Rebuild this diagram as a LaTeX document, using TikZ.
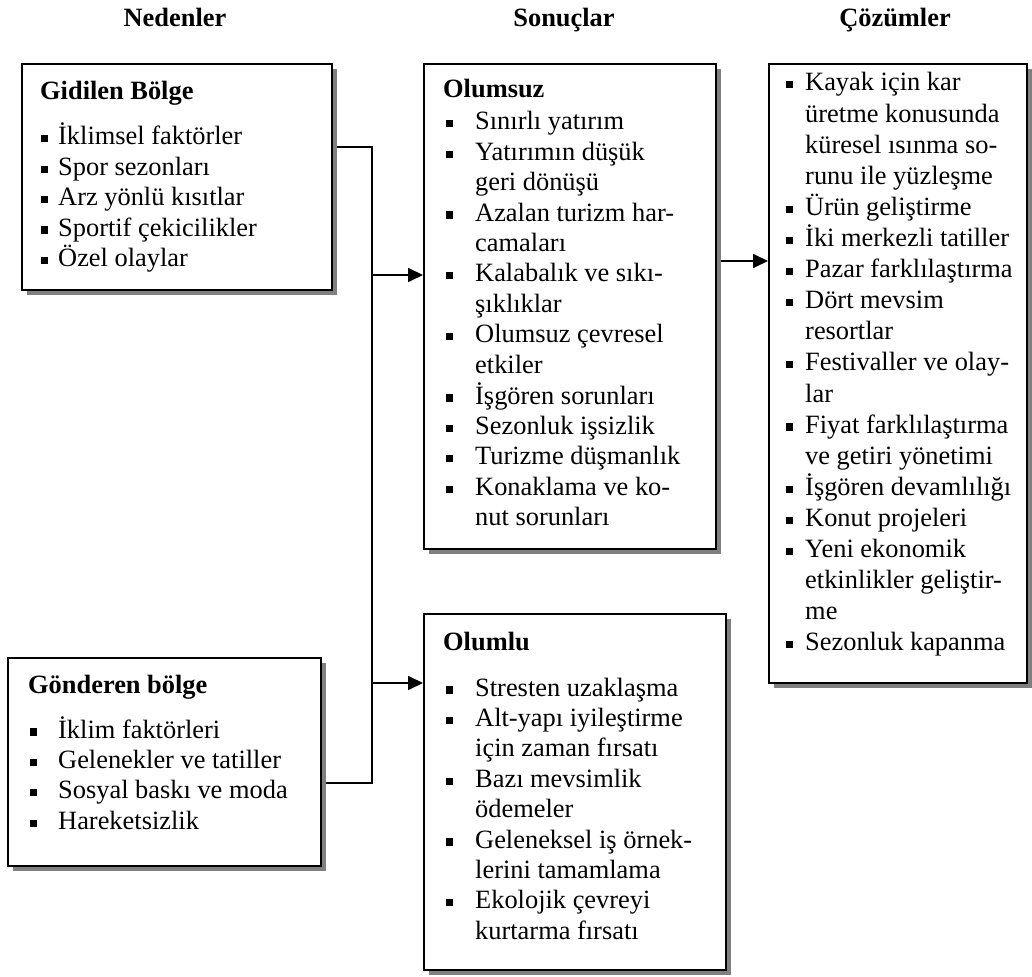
\documentclass[tikz,border=0pt]{standalone}
\usepackage{fontspec}
\setmainfont{Liberation Serif}
\usetikzlibrary{arrows.meta,shadows}
\pgfdeclarelayer{bg}
\pgfsetlayers{bg,main}
\definecolor{shadowgray}{RGB}{128,128,128}
% square bullet hung to the left of an item line
\newcommand{\sqb}[1]{\llap{\rule[2.5pt]{7.2pt}{7.2pt}\hspace{#1}}}
\newcommand{\blist}[1]{\begin{tabular}[t]{@{}l@{}}#1\end{tabular}}
\tikzset{
  panel/.style={rectangle, draw=black, line width=1.8pt, fill=white, inner sep=0pt,
    anchor=north west,
    drop shadow={shadow xshift=5pt, shadow yshift=-5pt, fill=shadowgray, opacity=1}},
  txt/.style={inner sep=0pt, anchor=base west, align=left,
    font=\fontsize{26.4}{30.4}\selectfont},
  wide/.style={txt, font=\fontsize{26.4}{31.1}\selectfont},
  title/.style={inner sep=0pt, anchor=base west, font=\fontsize{26.4}{30.4}\selectfont\bfseries},
  head/.style={inner sep=0pt, anchor=base, font=\fontsize{26.4}{30.4}\selectfont\bfseries},
  link/.style={line width=1.8pt},
  arr/.style={link, -{Triangle[length=15pt,width=14pt]}}
}
\begin{document}
\begin{tikzpicture}[x=1pt, y=-1pt]
\useasboundingbox (0,0) rectangle (1032,976);

% column headings
\node[head] (h1) at (175,27) {Nedenler};
\node[head] (h2) at (564,27) {Sonuçlar};
\node[head] (h3) at (895,27) {Çözümler};

% boxes
\node[panel, minimum width=310pt, minimum height=226pt] (gid) at (21,63) {};
\node[panel, minimum width=292pt, minimum height=485pt] (neg) at (423,63) {};
\node[panel, minimum width=258pt, minimum height=619pt] (coz) at (768,63) {};
\node[panel, minimum width=313pt, minimum height=208pt] (gon) at (7,657) {};
\node[panel, minimum width=302pt, minimum height=356pt] (pos) at (423,613) {};

% Gidilen Bölge
\node[title] (gidt) at (40,100) {Gidilen Bölge};
\node[txt] (gidl) at (58,145) {\blist{%
\sqb{10pt}İklimsel faktörler\\
\sqb{10pt}Spor sezonları\\
\sqb{10pt}Arz yönlü kısıtlar\\
\sqb{10pt}Sportif çekicilikler\\
\sqb{10pt}Özel olaylar}};

% Olumsuz
\node[title] (negt) at (443,98) {Olumsuz};
\node[txt] (negl) at (475,130) {\blist{%
\sqb{22pt}Sınırlı yatırım\\
\sqb{22pt}Yatırımın düşük\\
geri dönüşü\\
\sqb{22pt}Azalan turizm har-\\
camaları\\
\sqb{22pt}Kalabalık ve sıkı-\\
şıklıklar\\
\sqb{22pt}Olumsuz çevresel\\
etkiler\\
\sqb{22pt}İşgören sorunları\\
\sqb{22pt}Sezonluk işsizlik\\
\sqb{22pt}Turizme düşmanlık\\
\sqb{22pt}Konaklama ve ko-\\
nut sorunları}};

% Çözümler
\node[wide] (cozl) at (805,91) {\blist{%
\sqb{12pt}Kayak için kar\\
üretme konusunda\\
küresel ısınma so-\\
runu ile yüzleşme\\
\sqb{12pt}Ürün geliştirme\\
\sqb{12pt}İki merkezli tatiller\\
\sqb{12pt}Pazar farklılaştırma\\
\sqb{12pt}Dört mevsim\\
resortlar\\
\sqb{12pt}Festivaller ve olay-\\
lar\\
\sqb{12pt}Fiyat farklılaştırma\\
ve getiri yönetimi\\
\sqb{12pt}İşgören devamlılığı\\
\sqb{12pt}Konut projeleri\\
\sqb{12pt}Yeni ekonomik\\
etkinlikler geliştir-\\
me\\
\sqb{12pt}Sezonluk kapanma}};

% Gönderen bölge
\node[title] (gont) at (28,693) {Gönderen bölge};
\node[txt] (gonl) at (58,738) {\blist{%
\sqb{21pt}İklim faktörleri\\
\sqb{21pt}Gelenekler ve tatiller\\
\sqb{21pt}Sosyal baskı ve moda\\
\sqb{21pt}Hareketsizlik}};

% Olumlu
\node[title] (post) at (443,650) {Olumlu};
\node[txt] (posl) at (475,696) {\blist{%
\sqb{22pt}Stresten uzaklaşma\\
\sqb{22pt}Alt-yapı iyileştirme\\
için zaman fırsatı\\
\sqb{22pt}Bazı mevsimlik\\
ödemeler\\
\sqb{22pt}Geleneksel iş örnek-\\
lerini tamamlama\\
\sqb{22pt}Ekolojik çevreyi\\
kurtarma fırsatı}};

% connector junctions
\coordinate (jtop) at (372,147);
\coordinate (jbot) at (372,783);
\coordinate (jneg) at (372,275);
\coordinate (jpos) at (372,683);
\coordinate (jr) at (740,261);

\begin{pgfonlayer}{bg}
\draw[link] (gid.east |- jtop) -- (jtop) -- (jbot) -- (gon.east |- jbot);
\draw[arr] (jneg) -- (neg.west |- jneg);
\draw[arr] (jpos) -- (pos.west |- jpos);
\draw[arr] (neg.east |- jr) -- (coz.west |- jr);
\end{pgfonlayer}
\end{tikzpicture}
\end{document}
